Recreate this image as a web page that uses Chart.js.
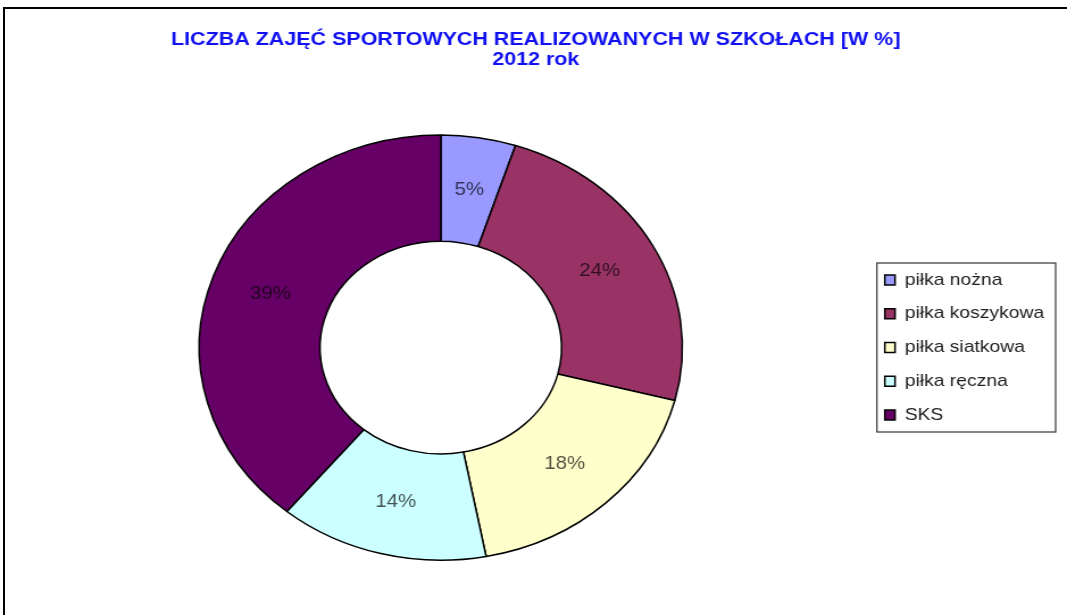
<!DOCTYPE html>
<html lang="pl">
<head>
<meta charset="UTF-8">
<title>Liczba zajęć sportowych realizowanych w szkołach</title>
<style>
  html, body { margin: 0; padding: 0; background: #fff; overflow: hidden; }
  #frame {
    position: absolute; left: 3px; top: 7px; width: 1100px; height: 650px;
    border-left: 2px solid #000; border-top: 2px solid #000;
  }
  /* the original picture is stretched horizontally, so is this one */
  #wrap {
    position: absolute; left: 0; top: 0; width: 939px; height: 615px;
    transform: scaleX(1.1363); transform-origin: 0 0;
  }
</style>
</head>
<body>
<div id="frame"></div>
<div id="wrap"><canvas id="chart" width="939" height="615"></canvas></div>

<script src="https://cdn.jsdelivr.net/npm/chart.js@4"></script>
<script>
const labels = ['piłka nożna', 'piłka koszykowa', 'piłka siatkowa', 'piłka ręczna', 'SKS'];
const values = [5, 24, 18, 14, 39];
const colors = ['#9999FF', '#993366', '#FFFFCC', '#CCFFFF', '#660066'];
const titleLines = ['LICZBA ZAJĘĆ SPORTOWYCH REALIZOWANYCH W SZKOŁACH [W %]', '2012 rok'];

const FONT = "'Liberation Sans', Arial, sans-serif";

// percent labels in the middle of each ring slice
const sliceLabels = {
    id: 'sliceLabels',
    afterDatasetsDraw(chart) {
        const ctx = chart.ctx;
        const meta = chart.getDatasetMeta(0);
        ctx.save();
        ctx.font = '18px ' + FONT;
        ctx.fillStyle = 'rgba(0,0,0,0.68)';
        ctx.textAlign = 'center';
        ctx.textBaseline = 'middle';
        meta.data.forEach((arc, i) => {
            const p = arc.tooltipPosition();
            ctx.fillText(values[i] + '%', p.x, p.y);
        });
        ctx.restore();
    }
};

// thin frame round the legend
const legendFrame = {
    id: 'legendFrame',
    afterDraw(chart) {
        const hb = chart.legend.legendHitBoxes;
        if (!hb || !hb.length) return;
        const left = Math.min(...hb.map(h => h.left)) - 7;
        const right = Math.max(...hb.map(h => h.left + h.width)) + 10;
        const top = hb[0].top - 8.5;
        const bottom = hb[hb.length - 1].top + hb[hb.length - 1].height + 8.5;
        const ctx = chart.ctx;
        ctx.save();
        ctx.strokeStyle = '#333';
        ctx.lineWidth = 1.2;
        ctx.strokeRect(left, top, right - left, bottom - top);
        ctx.restore();
    }
};

new Chart(document.getElementById('chart'), {
    type: 'doughnut',
    data: {
        labels: labels,
        datasets: [{
            data: values,
            backgroundColor: colors,
            borderColor: '#000',
            borderWidth: 1.5
        }]
    },
    options: {
        responsive: false,
        animation: false,
        devicePixelRatio: 1,
        cutout: '50%',
        layout: { padding: { top: 0, bottom: 54, left: 14, right: 10 } },
        plugins: {
            title: {
                display: true,
                text: titleLines,
                color: '#1010F0',
                font: { family: FONT, size: 18.9, weight: 'bold', lineHeight: 1.04 },
                padding: { top: 30, bottom: 65 }
            },
            legend: {
                position: 'right',
                // empty legend title only pushes the items lower
                title: {
                    display: true,
                    text: ' ',
                    font: { family: FONT, size: 10, lineHeight: 1 },
                    padding: { top: 0, bottom: 124 }
                },
                labels: {
                    color: '#222',
                    font: { family: FONT, size: 17 },
                    boxWidth: 9,
                    boxHeight: 10,
                    padding: 16.75
                }
            },
            tooltip: { enabled: false }
        }
    },
    plugins: [sliceLabels, legendFrame]
});
</script>
</body>
</html>
